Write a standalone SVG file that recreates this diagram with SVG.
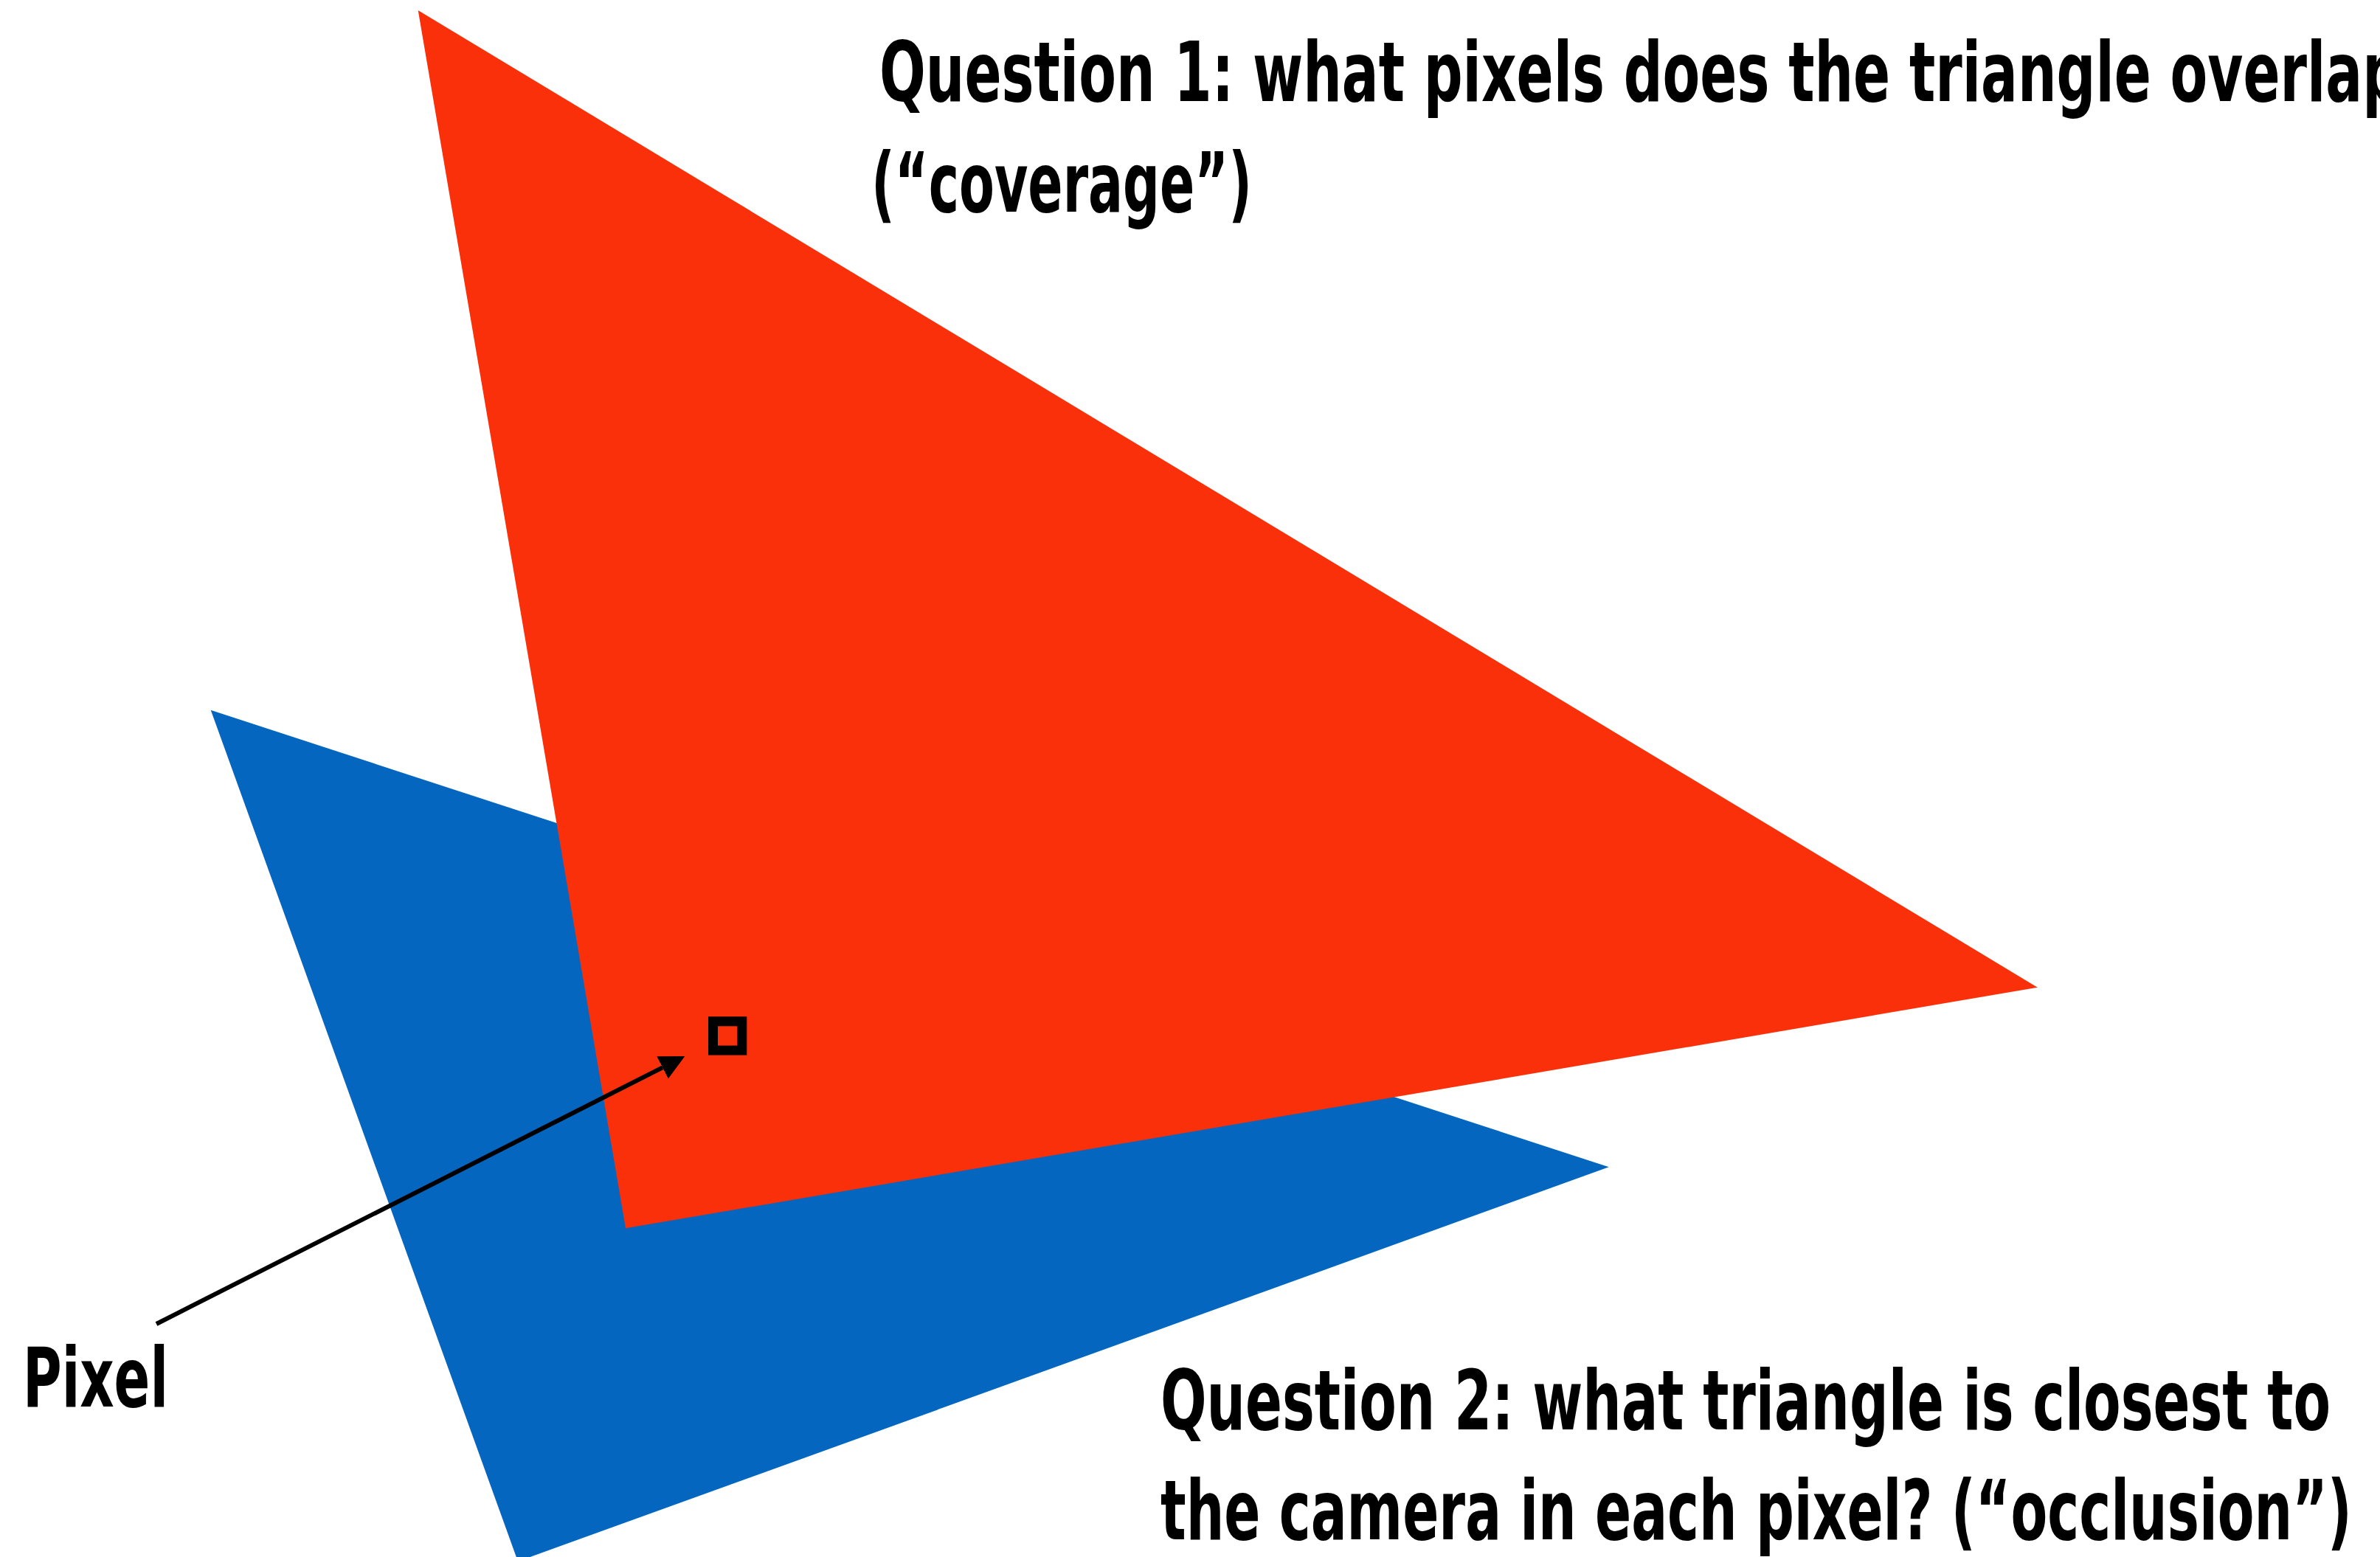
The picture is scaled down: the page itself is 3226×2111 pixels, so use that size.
<svg xmlns="http://www.w3.org/2000/svg" width="3226" height="2111" viewBox="0 0 3226 2111">
  <style>
    .lbl { font-family: "DejaVu Sans Condensed", "DejaVu Sans", "Liberation Sans", sans-serif; font-stretch: condensed; font-weight: bold; font-size: 113px; fill: #000000; }
    .tri-red { fill: #F9300A; }
    .tri-blue { fill: #0566C0; }
    .conn { stroke: #000000; stroke-width: 6; fill: none; }
  </style>
  <defs>
    <marker id="arrow" viewBox="0 0 34 34" refX="0" refY="17" markerWidth="34" markerHeight="34" markerUnits="userSpaceOnUse" orient="auto">
      <path d="M0,0 L34,17 L0,34 Z" fill="#000000"/>
    </marker>
  </defs>
  <rect width="3226" height="2111" fill="#FFFFFF"/>
  <g id="blue-triangle">
    <polygon class="tri-blue" points="285.7,962.7 2180.7,1582.3 702,2117"/>
  </g>
  <g id="red-triangle">
    <polygon class="tri-red" points="566.7,14 2761.7,1338.7 848,1665.3"/>
  </g>
  <g id="pixel-square">
    <rect x="966.5" y="1384.8" width="39.3" height="39.3" fill="none" stroke="#000000" stroke-width="13"/>
  </g>
  <g id="connectors">
    <line class="conn" x1="212" y1="1795" x2="898" y2="1447.4" marker-end="url(#arrow)"/>
  </g>
  <g id="label-pixel">
    <text class="lbl" x="31" y="1907" textLength="197" lengthAdjust="spacingAndGlyphs">Pixel</text>
  </g>
  <g id="label-question1">
    <text class="lbl" x="1192" y="137" textLength="2106" lengthAdjust="spacingAndGlyphs">Question 1: what pixels does the triangle overlap?</text>
    <text class="lbl" x="1181" y="287" textLength="516" lengthAdjust="spacingAndGlyphs">(“coverage”)</text>
  </g>
  <g id="label-question2">
    <text class="lbl" x="1573" y="1938" textLength="1586" lengthAdjust="spacingAndGlyphs">Question 2: what triangle is closest to</text>
    <text class="lbl" x="1573" y="2087" textLength="1615" lengthAdjust="spacingAndGlyphs">the camera in each pixel? (“occlusion”)</text>
  </g>
</svg>
